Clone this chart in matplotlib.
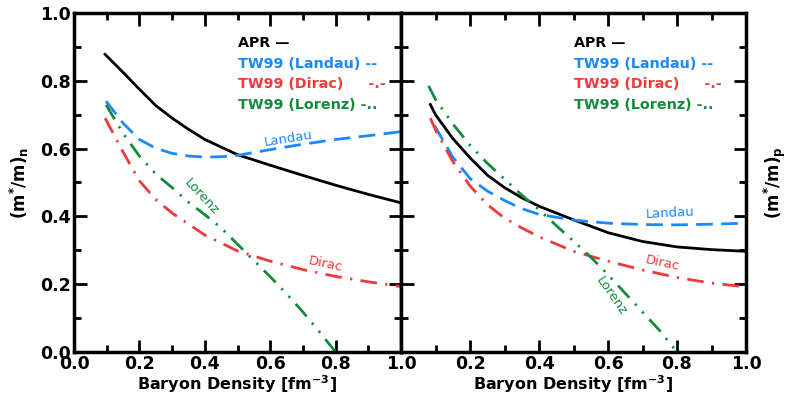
import matplotlib.pyplot as plt
import numpy as np
from matplotlib.ticker import MultipleLocator

plt.rcParams['font.family'] = 'DejaVu Sans'
plt.rcParams['font.weight'] = 'bold'
plt.rcParams['mathtext.fontset'] = 'dejavusans'
plt.rcParams['mathtext.default'] = 'bf'

blue = "#1a88ff"
red = "#ee3a3a"
green = "#138a3e"

# neutron effective mass (left)
x_apr_n = [0.095, 0.15, 0.2, 0.25, 0.3, 0.35, 0.4, 0.5, 0.6, 0.7, 0.8, 0.9, 1.0]
apr_n = [0.878, 0.825, 0.775, 0.727, 0.69, 0.657, 0.627, 0.582, 0.551, 0.521, 0.492, 0.465, 0.44]
x_lan_n = [0.098, 0.15, 0.2, 0.25, 0.3, 0.35, 0.4, 0.45, 0.5, 0.6, 0.7, 0.8, 0.9, 1.0]
landau_n = [0.74, 0.675, 0.627, 0.601, 0.586, 0.578, 0.575, 0.576, 0.58, 0.597, 0.613, 0.627, 0.638, 0.65]
x_dir_n = [0.095, 0.15, 0.2, 0.25, 0.3, 0.4, 0.5, 0.6, 0.7, 0.8, 0.9, 1.0]
dirac_n = [0.69, 0.59, 0.505, 0.45, 0.41, 0.345, 0.298, 0.268, 0.243, 0.223, 0.207, 0.193]
x_lor_n = [0.098, 0.15, 0.2, 0.25, 0.3, 0.35, 0.4, 0.45, 0.5, 0.55, 0.6, 0.65, 0.7, 0.75, 0.8]
lorenz_n = [0.729, 0.645, 0.578, 0.525, 0.485, 0.442, 0.405, 0.366, 0.318, 0.27, 0.222, 0.172, 0.118, 0.06, 0.0]

# proton effective mass (right)
x_apr_p = [0.085, 0.1, 0.15, 0.2, 0.25, 0.3, 0.35, 0.4, 0.5, 0.6, 0.7, 0.8, 0.9, 1.0]
apr_p = [0.73, 0.7, 0.63, 0.573, 0.522, 0.485, 0.455, 0.43, 0.39, 0.352, 0.326, 0.31, 0.302, 0.297]
x_lan_p = [0.097, 0.15, 0.2, 0.25, 0.3, 0.35, 0.4, 0.5, 0.6, 0.7, 0.8, 0.9, 1.0]
landau_p = [0.668, 0.575, 0.512, 0.475, 0.447, 0.423, 0.406, 0.389, 0.38, 0.376, 0.375, 0.377, 0.38]
x_dir_p = [0.085, 0.1, 0.15, 0.2, 0.25, 0.3, 0.35, 0.4, 0.5, 0.6, 0.7, 0.8, 0.9, 1.0]
dirac_p = [0.69, 0.655, 0.562, 0.49, 0.435, 0.395, 0.366, 0.34, 0.297, 0.268, 0.242, 0.22, 0.203, 0.192]
x_lor_p = [0.08, 0.1, 0.15, 0.2, 0.25, 0.3, 0.35, 0.4, 0.45, 0.5, 0.55, 0.6, 0.65, 0.7, 0.75, 0.8]
lorenz_p = [0.785, 0.745, 0.673, 0.61, 0.557, 0.51, 0.463, 0.42, 0.373, 0.327, 0.28, 0.228, 0.173, 0.118, 0.063, 0.0]

fig = plt.figure(figsize=(7.9, 3.95), dpi=100)
ax1 = fig.add_axes([74/790, 43/395, 327/790, 339/395])
ax2 = fig.add_axes([401/790, 43/395, 345/790, 339/395])

dash = (0, (6, 3))
dashdot = (0, (6, 3, 0.8, 3))
dashdotdot = (0, (6, 3, 0.8, 3, 0.8, 3))
lw = 2.0

panels = [
    (ax1, x_apr_n, apr_n, x_lan_n, landau_n, x_dir_n, dirac_n, x_lor_n, lorenz_n),
    (ax2, x_apr_p, apr_p, x_lan_p, landau_p, x_dir_p, dirac_p, x_lor_p, lorenz_p),
]
for ax, xa, apr, xl, landau, xd, dirac, xz, lorenz in panels:
    ax.plot(xa, apr, color="black", lw=lw)
    ax.plot(xl, landau, color=blue, lw=lw, linestyle=dash)
    ax.plot(xd, dirac, color=red, lw=lw, linestyle=dashdot)
    ax.plot(xz, lorenz, color=green, lw=lw, linestyle=dashdotdot)
    ax.set_xlim(0, 1)
    ax.set_ylim(0, 1)
    ax.xaxis.set_major_locator(MultipleLocator(0.2))
    ax.xaxis.set_minor_locator(MultipleLocator(0.1))
    ax.yaxis.set_major_locator(MultipleLocator(0.2))
    ax.yaxis.set_minor_locator(MultipleLocator(0.1))
    ax.tick_params(which='both', direction='in', top=True, right=True,
                   width=2, labelsize=12.5, pad=2.5)
    ax.tick_params(which='major', length=9)
    ax.tick_params(which='minor', length=5)
    for s in ax.spines.values():
        s.set_linewidth(2.5)
    ax.set_xlabel("Baryon Density [fm$^{-3}$]", fontsize=11.5, fontweight='bold', labelpad=0)
    # legend-like text block
    ty = 0.912
    kw = dict(fontsize=10.3, fontweight='bold', transform=ax.transAxes, va='center')
    ax.text(0.5, ty, "APR —", color="black", **kw)
    ax.text(0.5, ty - 0.061, "TW99 (Landau) --", color=blue, **kw)
    ax.text(0.5, ty - 0.122, "TW99 (Dirac)     -.-", color=red, **kw)
    ax.text(0.5, ty - 0.183, "TW99 (Lorenz) -..", color=green, **kw)

ax2.set_xticks([0.2, 0.4, 0.6, 0.8, 1.0])
ax2.tick_params(axis='y', labelleft=False)

ax1.set_ylabel("(m$^{*}$/m)$_{n}$", fontsize=12, fontweight='bold', labelpad=6)
ax2.yaxis.set_label_position('right')
ax2.set_ylabel("(m$^{*}$/m)$_{p}$", fontsize=12, fontweight='bold', labelpad=11)

# curve labels
lk = dict(fontsize=9.5, fontweight='normal', ha='center', va='center')
ax1.text(0.655, 0.63, "Landau", color=blue, rotation=9, **lk)
ax1.text(0.77, 0.258, "Dirac", color=red, rotation=-12, **lk)
ax1.text(0.39, 0.458, "Lorenz", color=green, rotation=-47, **lk)
ax2.text(0.78, 0.408, "Landau", color=blue, rotation=3, **lk)
ax2.text(0.757, 0.262, "Dirac", color=red, rotation=-12, **lk)
ax2.text(0.61, 0.165, "Lorenz", color=green, rotation=-55, **lk)

fig.savefig("out.png", dpi=100)
